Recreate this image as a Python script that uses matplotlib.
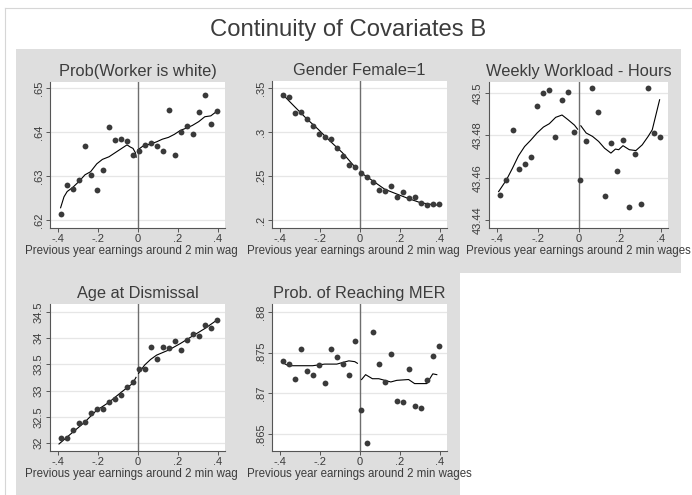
import numpy as np
import matplotlib
matplotlib.use("Agg")
import matplotlib.pyplot as plt
from matplotlib.lines import Line2D

plt.rcParams['font.family'] = ['Liberation Sans', 'DejaVu Sans']

W, H = 692, 495
BG = "#dedede"
TXT = "#3c3c3c"
XLABEL = "Previous year earnings around 2 min wages"

# bin centres, shared by all panels
bins = [-0.385, -0.355, -0.325, -0.295, -0.265, -0.235, -0.205, -0.175, -0.145,
        -0.115, -0.085, -0.055, -0.025, 0.005, 0.035, 0.065, 0.095, 0.125,
        0.155, 0.185, 0.215, 0.245, 0.275, 0.305, 0.335, 0.365, 0.395]

# --- Prob(Worker is white)
white_pts = [.6214, .6279, .6271, .6291, .6369, .6302, .6268, .6315, .6411,
             .6381, .6385, .6380, .6347, .6358, .6370, .6375, .6369, .6356,
             .6450, .6347, .6401, .6413, .6395, .6445, .6485, .6419, .6449]
white_lx = [-0.387, -0.370, -0.354, -0.327, -0.297, -0.265, -0.237, -0.206,
            -0.178, -0.145, -0.115, -0.085, -0.055, -0.038, -0.025, -0.013, -0.009]
white_ly = [.6228, .6253, .6265, .6274, .6287, .6303, .6310, .6328,
            .6338, .6344, .6353, .6362, .6371, .6366, .6363, .6353, .6343]
white_rx = [0.0, 0.027, 0.063, 0.093, 0.122, 0.152, 0.182, 0.212, 0.241,
            0.271, 0.304, 0.334, 0.364, 0.393]
white_ry = [.6360, .6369, .6373, .6378, .6384, .6388, .6395, .6404, .6409,
            .6415, .6424, .6435, .6437, .6447]

# --- Gender Female=1
fem_pts = [.3420, .3401, .3215, .3223, .3147, .3063, .2972, .2942, .2923,
           .2820, .2733, .2630, .2608, .2532, .2490, .2437, .2342, .2334,
           .2384, .2266, .2323, .2254, .2266, .2197, .2167, .2186, .2186]
fem_lx = [-0.389, -0.328, -0.270, -0.210, -0.151, -0.089, -0.030, -0.014]
fem_ly = [.3432, .3291, .3158, .3033, .2900, .2767, .2615, .2589]
fem_rx = [0.004, 0.062, 0.124, 0.183, 0.243, 0.302, 0.363, 0.395]
fem_ry = [.2539, .2448, .2349, .2296, .2243, .2197, .2175, .2167]

# --- Weekly Workload - Hours
hours_pts = [43.4520, 43.4589, 43.4823, 43.4640, 43.4664, 43.4697, 43.4937,
             43.5000, 43.5016, 43.4790, 43.4965, 43.5003, 43.4814, 43.4589,
             43.4773, 43.5024, 43.4910, 43.4515, 43.4766, 43.4632, 43.4779,
             43.4463, 43.4714, 43.4476, 43.5024, 43.4811, 43.4792]
hours_lx = [-0.393, -0.355, -0.325, -0.296, -0.266, -0.237, -0.205, -0.174,
            -0.145, -0.114, -0.083, -0.054, -0.022, -0.007]
hours_ly = [43.4534, 43.4589, 43.4645, 43.4703, 43.4747, 43.4776, 43.4811,
            43.4839, 43.4855, 43.4885, 43.4896, 43.4874, 43.4848, 43.4829]
hours_rx = [0.009, 0.035, 0.066, 0.096, 0.125, 0.156, 0.178, 0.194, 0.215,
            0.246, 0.278, 0.309, 0.338, 0.358, 0.374, 0.394]
hours_ry = [43.4845, 43.4811, 43.4795, 43.4771, 43.4739, 43.4716, 43.4735,
            43.4732, 43.4751, 43.4732, 43.4728, 43.4755, 43.4795, 43.4826,
            43.4889, 43.4968]

# --- Age at Dismissal
age_pts = [32.089, 32.101, 32.253, 32.373, 32.392, 32.570, 32.658, 32.646,
           32.785, 32.848, 32.924, 33.063, 33.171, 33.405, 33.405, 33.823,
           33.608, 33.829, 33.816, 33.949, 33.766, 33.968, 34.089, 34.051,
           34.253, 34.190, 34.342]
age_lx = [-0.395, -0.327, -0.268, -0.208, -0.147, -0.086, -0.026, -0.010]
age_ly = [31.981, 32.203, 32.392, 32.620, 32.772, 32.962, 33.139, 33.253]
age_rx = [0.003, 0.033, 0.063, 0.093, 0.152, 0.182, 0.212, 0.271, 0.334, 0.393]
age_ry = [33.329, 33.487, 33.595, 33.677, 33.772, 33.835, 33.899, 34.038,
          34.184, 34.342]

# --- Prob. of Reaching MER
mer_pts = [.87393, .8736, .8718, .8754, .8727, .8723, .8735, .8713, .8755,
           .8745, .8736, .8722, .8765, .8679, .8639, .8776, .8736, .8714,
           .8748, .8690, .8689, .8730, .8685, .8682, .8717, .8746, .8758]
mer_lx = [-0.389, -0.358, -0.298, -0.237, -0.177, -0.116, -0.056, -0.026, -0.013]
mer_ly = [.8738, .8734, .8734, .8734, .8736, .8736, .8740, .8739, .8737]
mer_rx = [0.008, 0.028, 0.062, 0.094, 0.154, 0.184, 0.243, 0.273, 0.334,
          0.364, 0.384]
mer_ry = [.8717, .8723, .8718, .8718, .8714, .8716, .8717, .8712, .8712,
          .8724, .8723]

panels = [
    dict(title="Prob(Worker is white)", pts=white_pts, lx=white_lx, ly=white_ly,
         rx=white_rx, ry=white_ry, yt=[.62, .63, .64, .65],
         ytl=[".62", ".63", ".64", ".65"], ylim=(.6182, .6514),
         bg=(16, 49, 238, 273), ax=(50, 82, 225, 228)),
    dict(title="Gender Female=1", pts=fem_pts, lx=fem_lx, ly=fem_ly,
         rx=fem_rx, ry=fem_ry, yt=[.2, .25, .3, .35],
         ytl=[".2", ".25", ".3", ".35"], ylim=(.1909, .3580),
         bg=(238, 49, 460, 273), ax=(272, 81, 447, 228)),
    dict(title="Weekly Workload - Hours", pts=hours_pts, lx=hours_lx, ly=hours_ly,
         rx=hours_rx, ry=hours_ry, yt=[43.44, 43.46, 43.48, 43.5],
         ytl=["43.44", "43.46", "43.48", "43.5"], ylim=(43.4362, 43.5052),
         bg=(460, 49, 681, 273), ax=(489, 82, 668, 228)),
    dict(title="Age at Dismissal", pts=age_pts, lx=age_lx, ly=age_ly,
         rx=age_rx, ry=age_ry, yt=[32, 32.5, 33, 33.5, 34, 34.5],
         ytl=["32", "32.5", "33", "33.5", "34", "34.5"], ylim=(31.847, 34.653),
         bg=(16, 273, 238, 495), ax=(50, 304, 225, 451)),
    dict(title="Prob. of Reaching MER", pts=mer_pts, lx=mer_lx, ly=mer_ly,
         rx=mer_rx, ry=mer_ry, yt=[.865, .87, .875, .88],
         ytl=[".865", ".87", ".875", ".88"], ylim=(.8629, .881),
         bg=(238, 273, 460, 495), ax=(272, 304, 447, 451)),
]


def px_rect(x0, y0, x1, y1):
    return [x0 / W, 1 - y1 / H, (x1 - x0) / W, (y1 - y0) / H]


fig = plt.figure(figsize=(W / 100, H / 100), dpi=100, facecolor="white")

# thin outer frame of the combined graph
fig.add_artist(Line2D([5 / W, 5 / W], [0, 1 - 8 / H], transform=fig.transFigure,
                      color="#d6d6d6", lw=0.8))
fig.add_artist(Line2D([5 / W, 1], [1 - 8 / H, 1 - 8 / H], transform=fig.transFigure,
                      color="#d6d6d6", lw=0.8))

fig.text(348 / W, 1 - 30 / H, "Continuity of Covariates B", ha="center",
         va="center", fontsize=17.2, color=TXT)

for p in panels:
    bg = fig.add_axes(px_rect(*p["bg"]))
    bg.set_facecolor(BG)
    bg.set_xticks([])
    bg.set_yticks([])
    for s in bg.spines.values():
        s.set_visible(False)

    ax = fig.add_axes(px_rect(*p["ax"]))
    ax.set_facecolor("white")
    ax.set_xlim(-0.44, 0.435)
    ax.set_ylim(*p["ylim"])
    for y in p["yt"]:
        ax.axhline(y, color="#e6e6e6", lw=0.9, zorder=0)
    ax.axvline(0, color="#6e6e6e", lw=1.0, zorder=1)
    ax.plot(bins, p["pts"], "o", color="#3a3a3a", ms=4.2, mew=0, zorder=3)
    ax.plot(p["lx"], p["ly"], color="black", lw=0.8, zorder=2)
    ax.plot(p["rx"], p["ry"], color="black", lw=0.8, zorder=2)

    ax.set_xticks([-0.4, -0.2, 0, 0.2, 0.4])
    ax.set_xticklabels(["-.4", "-.2", "0", ".2", ".4"])
    ax.set_yticks(p["yt"])
    ax.set_yticklabels(p["ytl"], rotation=90, va="center")
    ax.tick_params(axis="both", labelsize=8, colors=TXT, length=2.8,
                   width=0.7, pad=1.5)
    ax.tick_params(axis="both", color="#555555")
    for side in ["top", "right"]:
        ax.spines[side].set_visible(False)
    for side in ["left", "bottom"]:
        ax.spines[side].set_color("#555555")
        ax.spines[side].set_linewidth(0.8)
    ax.set_xlabel(XLABEL, fontsize=8.3, color=TXT, labelpad=0.5)
    ax.set_title(p["title"], fontsize=11.8, color=TXT, pad=4)

fig.savefig("out.png", dpi=100, facecolor="white")
